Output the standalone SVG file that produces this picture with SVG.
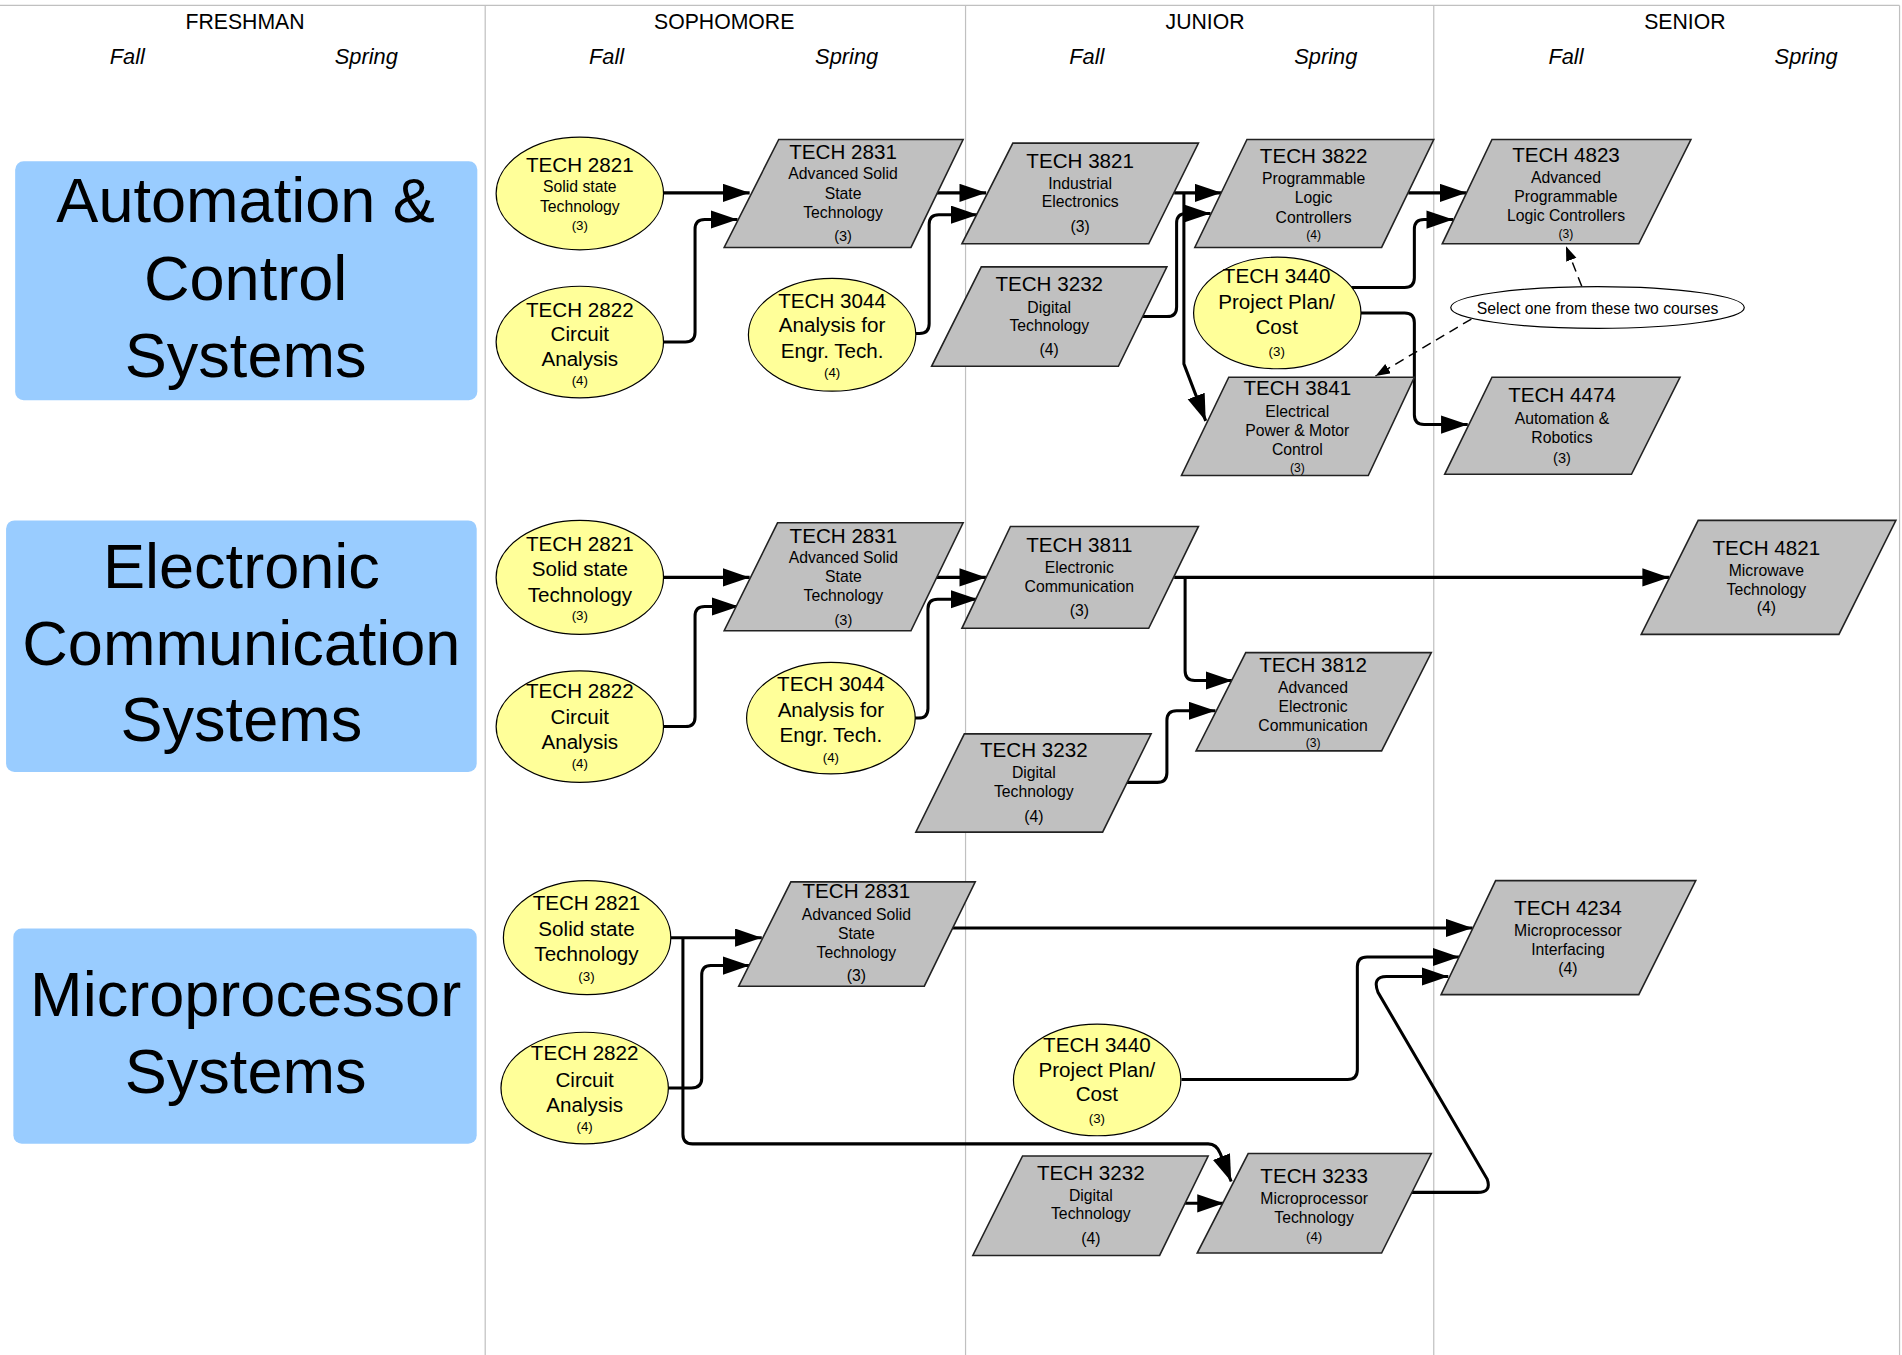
<svg xmlns="http://www.w3.org/2000/svg" width="1902" height="1355" viewBox="0 0 1902 1355">
<defs>
<style>
text{font-family:"Liberation Sans",Arial,sans-serif;text-anchor:middle;fill:#000}
.grid{stroke:#c0c0c0;stroke-width:1;fill:none}
.yr{font-size:17.5px}
.sem{font-size:18px;font-style:italic}
.trk{fill:#99ccff}
.tt{font-size:52px}
.e{fill:#ffff99;stroke:#000;stroke-width:1}
.p{fill:#c0c0c0;stroke:#222;stroke-width:1.3}
.note{fill:#fff;stroke:#000;stroke-width:1}
.t1{font-size:17px}
.t2{font-size:13px}
.t3{font-size:11px}
.t4{font-size:12px}
.t5{font-size:10px}
.c{fill:none;stroke:#000;stroke-width:2.5;marker-end:url(#ah)}
.d{fill:none;stroke:#000;stroke-width:1.2;stroke-dasharray:8 5;marker-end:url(#ahs)}
</style>
<marker id="ah" markerUnits="userSpaceOnUse" markerWidth="23" markerHeight="16" refX="22" refY="7.5" orient="auto">
<path d="M0,0 L22,7.5 L0,15 z" fill="#000"/>
</marker>
<marker id="ahs" markerUnits="userSpaceOnUse" markerWidth="13" markerHeight="10" refX="12" refY="4.5" orient="auto">
<path d="M0,0 L12,4.5 L0,9 z" fill="#000"/>
</marker>
</defs>
<rect x="0" y="0" width="1902" height="1355" fill="#fff"/>
<g transform="scale(1.213)">
<g id="grid">
<path class="grid" d="M0,4.5 H1566 M400,4.5 V1117 M796,4.5 V1117 M1182,4.5 V1117 M1566,4.5 V1117"/>
<text class="yr" x="202" y="24">FRESHMAN</text>
<text class="yr" x="597" y="24">SOPHOMORE</text>
<text class="yr" x="993.5" y="24">JUNIOR</text>
<text class="yr" x="1389" y="24">SENIOR</text>
<text class="sem" x="105" y="53">Fall</text>
<text class="sem" x="302" y="53">Spring</text>
<text class="sem" x="500" y="53">Fall</text>
<text class="sem" x="698" y="53">Spring</text>
<text class="sem" x="896" y="53">Fall</text>
<text class="sem" x="1093" y="53">Spring</text>
<text class="sem" x="1291" y="53">Fall</text>
<text class="sem" x="1489" y="53">Spring</text>
</g>
<g id="track-automation">
<rect class="trk" x="12.5" y="133" width="381" height="197" rx="7"/>
<text class="tt" x="202.5" y="183">Automation &amp;</text>
<text class="tt" x="202.5" y="247">Control</text>
<text class="tt" x="202.5" y="311">Systems</text>
</g>
<g id="track-electronic">
<rect class="trk" x="5" y="429" width="388" height="207.5" rx="7"/>
<text class="tt" x="199" y="485">Electronic</text>
<text class="tt" x="199" y="548">Communication</text>
<text class="tt" x="199" y="611">Systems</text>
</g>
<g id="track-micro">
<rect class="trk" x="11" y="765.5" width="382" height="177.5" rx="7"/>
<text class="tt" x="202.5" y="838">Microprocessor</text>
<text class="tt" x="202.5" y="901">Systems</text>
</g>
<g id="connectors">
<path class="c" d="M547,159 H618"/>
<path class="c" d="M547,282 H565 Q573,282 573,274 V189 Q573,181 581,181 H608"/>
<path class="c" d="M772,159 H813"/>
<path class="c" d="M755,275 H758 Q766,275 766,267 V185 Q766,177 774,177 H806"/>
<path class="c" d="M968,159 H1007"/>
<path class="c" d="M942,261 H962 Q970,261 970,253 V184 Q970,176 978,176 H998"/>
<path class="c" d="M976,159 V300 L994,347"/>
<path class="c" d="M1161,159 H1209"/>
<path class="c" d="M1114,237 H1158 Q1166,237 1166,229 V189 Q1166,181 1174,181 H1198"/>
<path class="c" d="M1122,258 H1158 Q1166,258 1166,266 V342 Q1166,350 1174,350 H1210"/>
<path class="d" d="M1304,236 L1291,203"/>
<path class="d" d="M1213,263 L1134,310"/>
<path class="c" d="M547,476 H618"/>
<path class="c" d="M547,599 H565 Q573,599 573,591 V508 Q573,500 581,500 H609"/>
<path class="c" d="M772,476 H813"/>
<path class="c" d="M754,592 H757 Q765,592 765,584 V502 Q765,494 773,494 H806"/>
<path class="c" d="M968,476 H1376"/>
<path class="c" d="M977,476 V553 Q977,561 985,561 H1016"/>
<path class="c" d="M928,645 H954 Q962,645 962,637 V594 Q962,586 970,586 H1002"/>
<path class="c" d="M553,773 H628"/>
<path class="c" d="M551,897 H570 Q578.5,897 578.5,889 V804 Q578.5,796 586,796 H618"/>
<path class="c" d="M563,773 V935 Q563,943 571,943 H996 Q1003,943 1006,951 L1015,974"/>
<path class="c" d="M785,765 H1214"/>
<path class="c" d="M974,890 H1111 Q1119,890 1119,882 V797 Q1119,789 1127,789 H1203"/>
<path class="c" d="M1161,983 H1218 Q1230,983 1226,972 L1136,818 Q1131,805 1143,805 H1194"/>
<path class="c" d="M977,992 H1009"/>
</g>
<g id="n-a2821">
<ellipse class="e" cx="478" cy="159.5" rx="69" ry="46.5"/>
<text class="t1" x="478" y="141.5">TECH 2821</text>
<text class="t2" x="478" y="158.5">Solid state</text>
<text class="t2" x="478" y="174.5">Technology</text>
<text class="t3" x="478" y="189.5">(3)</text>
</g>
<g id="n-a2822">
<ellipse class="e" cx="478" cy="282" rx="69" ry="46"/>
<text class="t1" x="478" y="261">TECH 2822</text>
<text class="t1" x="478" y="281">Circuit</text>
<text class="t1" x="478" y="302">Analysis</text>
<text class="t3" x="478" y="317">(4)</text>
</g>
<g id="n-a2831">
<polygon class="p" points="642,115 794,115 751,204 597,204"/>
<text class="t1" x="695" y="131">TECH 2831</text>
<text class="t2" x="695" y="147.6">Advanced Solid</text>
<text class="t2" x="695" y="164">State</text>
<text class="t2" x="695" y="179.5">Technology</text>
<text class="t4" x="695" y="199">(3)</text>
</g>
<g id="n-a3044">
<ellipse class="e" cx="686" cy="276" rx="69" ry="46.5"/>
<text class="t1" x="686" y="253.6">TECH 3044</text>
<text class="t1" x="686" y="274">Analysis for</text>
<text class="t1" x="686" y="295">Engr. Tech.</text>
<text class="t3" x="686" y="311">(4)</text>
</g>
<g id="n-a3821">
<polygon class="p" points="835,118 988,118 947,201 793,201"/>
<text class="t1" x="890.5" y="138.7">TECH 3821</text>
<text class="t2" x="890.5" y="155.8">Industrial</text>
<text class="t2" x="890.5" y="170.8">Electronics</text>
<text class="t2" x="890.5" y="191">(3)</text>
</g>
<g id="n-a3232">
<polygon class="p" points="809,220 962,220 922,302 768,302"/>
<text class="t1" x="865" y="239.6">TECH 3232</text>
<text class="t2" x="865" y="257.8">Digital</text>
<text class="t2" x="865" y="272.6">Technology</text>
<text class="t2" x="865" y="292.7">(4)</text>
</g>
<g id="n-a3822">
<polygon class="p" points="1028,115 1182,115 1139,204 985,204"/>
<text class="t1" x="1083" y="134">TECH 3822</text>
<text class="t2" x="1083" y="151.7">Programmable</text>
<text class="t2" x="1083" y="167">Logic</text>
<text class="t2" x="1083" y="183.6">Controllers</text>
<text class="t5" x="1083" y="197.3">(4)</text>
</g>
<g id="n-a3440">
<ellipse class="e" cx="1053" cy="258" rx="69" ry="46"/>
<text class="t1" x="1052.5" y="233.6">TECH 3440</text>
<text class="t1" x="1052.5" y="255">Project Plan/</text>
<text class="t1" x="1052.5" y="275.6">Cost</text>
<text class="t3" x="1052.5" y="293.5">(3)</text>
</g>
<g id="n-a3841">
<polygon class="p" points="1013,311 1166,311 1128,392 974,392"/>
<text class="t1" x="1069.5" y="325.6">TECH 3841</text>
<text class="t2" x="1069.5" y="344">Electrical</text>
<text class="t2" x="1069.5" y="359.4">Power &amp; Motor</text>
<text class="t2" x="1069.5" y="375">Control</text>
<text class="t5" x="1069.5" y="388.8">(3)</text>
</g>
<g id="n-a4823">
<polygon class="p" points="1230,115 1394,115 1351,201 1189,201"/>
<text class="t1" x="1291" y="133.3">TECH 4823</text>
<text class="t2" x="1291" y="151">Advanced</text>
<text class="t2" x="1291" y="166.5">Programmable</text>
<text class="t2" x="1291" y="182">Logic Controllers</text>
<text class="t5" x="1291" y="196.5">(3)</text>
</g>
<g id="n-a4474">
<polygon class="p" points="1230,311 1385,311 1345,391 1191,391"/>
<text class="t1" x="1287.7" y="331">TECH 4474</text>
<text class="t2" x="1287.7" y="349.5">Automation &amp;</text>
<text class="t2" x="1287.7" y="365.5">Robotics</text>
<text class="t4" x="1287.7" y="382">(3)</text>
</g>
<g id="n-note">
<ellipse class="note" cx="1317" cy="253.5" rx="121" ry="17.2"/>
<text class="t2" x="1317" y="258.9">Select one from these two courses</text>
</g>
<g id="n-e2821">
<ellipse class="e" cx="478" cy="476" rx="69" ry="47"/>
<text class="t1" x="478" y="454">TECH 2821</text>
<text class="t1" x="478" y="474.9">Solid state</text>
<text class="t1" x="478" y="496">Technology</text>
<text class="t3" x="478" y="511">(3)</text>
</g>
<g id="n-e2822">
<ellipse class="e" cx="478" cy="599" rx="69" ry="46"/>
<text class="t1" x="478" y="575.7">TECH 2822</text>
<text class="t1" x="478" y="596.9">Circuit</text>
<text class="t1" x="478" y="617.7">Analysis</text>
<text class="t3" x="478" y="633.4">(4)</text>
</g>
<g id="n-e2831">
<polygon class="p" points="641,431 794,431 751,520 597,520"/>
<text class="t1" x="695.3" y="447.4">TECH 2831</text>
<text class="t2" x="695.3" y="464.4">Advanced Solid</text>
<text class="t2" x="695.3" y="480">State</text>
<text class="t2" x="695.3" y="495.5">Technology</text>
<text class="t4" x="695.3" y="515.3">(3)</text>
</g>
<g id="n-e3044">
<ellipse class="e" cx="685" cy="592" rx="69.5" ry="46"/>
<text class="t1" x="685" y="569.4">TECH 3044</text>
<text class="t1" x="685" y="590.8">Analysis for</text>
<text class="t1" x="685" y="611.4">Engr. Tech.</text>
<text class="t3" x="685" y="627.9">(4)</text>
</g>
<g id="n-e3811">
<polygon class="p" points="833,434 988,434 947,518 793,518"/>
<text class="t1" x="889.8" y="454.8">TECH 3811</text>
<text class="t2" x="889.8" y="472">Electronic</text>
<text class="t2" x="889.8" y="487.8">Communication</text>
<text class="t2" x="889.8" y="507.8">(3)</text>
</g>
<g id="n-e3812">
<polygon class="p" points="1027,538 1180,538 1139,619 986,619"/>
<text class="t1" x="1082.5" y="553.7">TECH 3812</text>
<text class="t2" x="1082.5" y="571">Advanced</text>
<text class="t2" x="1082.5" y="586.7">Electronic</text>
<text class="t2" x="1082.5" y="602.4">Communication</text>
<text class="t5" x="1082.5" y="616">(3)</text>
</g>
<g id="n-e3232">
<polygon class="p" points="795,605 949,605 909,686 755,686"/>
<text class="t1" x="852.3" y="623.8">TECH 3232</text>
<text class="t2" x="852.3" y="641.6">Digital</text>
<text class="t2" x="852.3" y="656.8">Technology</text>
<text class="t2" x="852.3" y="677.4">(4)</text>
</g>
<g id="n-e4821">
<polygon class="p" points="1400,429 1563,429 1516,523 1353,523"/>
<text class="t1" x="1456.2" y="457.5">TECH 4821</text>
<text class="t2" x="1456.2" y="474.9">Microwave</text>
<text class="t2" x="1456.2" y="490.5">Technology</text>
<text class="t2" x="1456.2" y="505.6">(4)</text>
</g>
<g id="n-m2821">
<ellipse class="e" cx="484" cy="773" rx="69" ry="47"/>
<text class="t1" x="483.5" y="750.2">TECH 2821</text>
<text class="t1" x="483.5" y="771.6">Solid state</text>
<text class="t1" x="483.5" y="792">Technology</text>
<text class="t3" x="483.5" y="808.5">(3)</text>
</g>
<g id="n-m2822">
<ellipse class="e" cx="482" cy="897" rx="69" ry="46"/>
<text class="t1" x="482" y="873.9">TECH 2822</text>
<text class="t1" x="482" y="895.9">Circuit</text>
<text class="t1" x="482" y="916.5">Analysis</text>
<text class="t3" x="482" y="932.1">(4)</text>
</g>
<g id="n-m2831">
<polygon class="p" points="652,727 804,727 762,813 609,813"/>
<text class="t1" x="706" y="740.5">TECH 2831</text>
<text class="t2" x="706" y="758.5">Advanced Solid</text>
<text class="t2" x="706" y="774">State</text>
<text class="t2" x="706" y="789.5">Technology</text>
<text class="t2" x="706" y="809">(3)</text>
</g>
<g id="n-m3440">
<ellipse class="e" cx="904.5" cy="890.3" rx="69" ry="46"/>
<text class="t1" x="904.3" y="867">TECH 3440</text>
<text class="t1" x="904.3" y="887.6">Project Plan/</text>
<text class="t1" x="904.3" y="908">Cost</text>
<text class="t3" x="904.3" y="926">(3)</text>
</g>
<g id="n-m4234">
<polygon class="p" points="1233,726 1398,726 1351,820 1188,820"/>
<text class="t1" x="1292.6" y="754.3">TECH 4234</text>
<text class="t2" x="1292.6" y="771.6">Microprocessor</text>
<text class="t2" x="1292.6" y="787.3">Interfacing</text>
<text class="t2" x="1292.6" y="803">(4)</text>
</g>
<g id="n-m3232">
<polygon class="p" points="843,953 996,953 956,1035 802,1035"/>
<text class="t1" x="899.3" y="972.8">TECH 3232</text>
<text class="t2" x="899.3" y="989.8">Digital</text>
<text class="t2" x="899.3" y="1005.2">Technology</text>
<text class="t2" x="899.3" y="1025.5">(4)</text>
</g>
<g id="n-m3233">
<polygon class="p" points="1029,951 1180,951 1139,1033 987,1033"/>
<text class="t1" x="1083.4" y="975">TECH 3233</text>
<text class="t2" x="1083.4" y="992.6">Microprocessor</text>
<text class="t2" x="1083.4" y="1008">Technology</text>
<text class="t3" x="1083.4" y="1022.8">(4)</text>
</g>
</g>
</svg>
